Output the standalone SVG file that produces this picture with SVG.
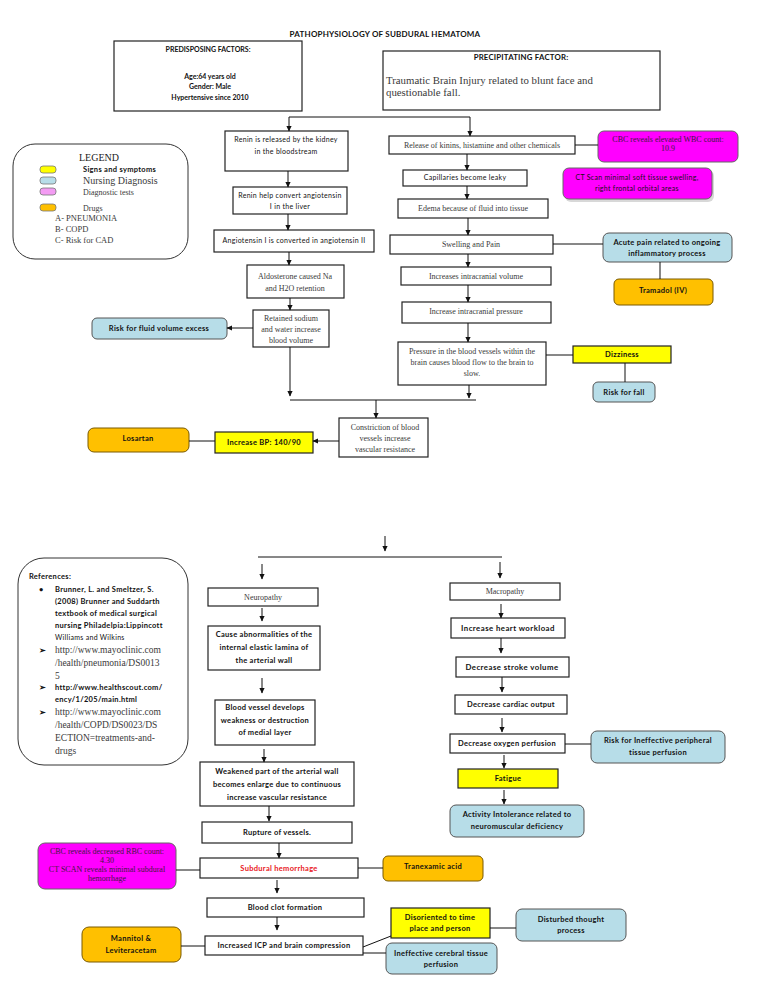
<svg xmlns="http://www.w3.org/2000/svg" width="768" height="1006" viewBox="0 0 768 1006">
<style>
.bg{fill:#fff}
.box{fill:#fff;stroke:#222;stroke-width:1.2}
.yel{fill:#ffff00;stroke:#222;stroke-width:1.2}
.blu{fill:#b7dde8;stroke:#555;stroke-width:1}
.mag{fill:#ff00ff;stroke:#666;stroke-width:1}
.ora{fill:#ffc000;stroke:#7a5a00;stroke-width:1}
.rnd{fill:#fff;stroke:#333;stroke-width:1}
.ln{stroke:#111;stroke-width:1;fill:none}
.sb{font-family:Lato,"Liberation Sans",sans-serif;font-weight:bold;font-size:7.5px;letter-spacing:0.3px;fill:#111}
.ss{font-family:Lato,"Liberation Sans",sans-serif;font-size:7px;letter-spacing:0.3px;fill:#111}
.sr{font-family:"Liberation Serif",serif;font-size:8px;fill:#3a3a3a}
.mt{fill:#3d1a3d}
.big{font-size:7.8px;letter-spacing:0.45px}
.c{text-anchor:middle}
</style>
<defs>
<marker id="ah" markerWidth="6" markerHeight="6" refX="5" refY="3" orient="auto" markerUnits="userSpaceOnUse"><path d="M0,0.4 L5.5,3 L0,5.6 z" fill="#111"/></marker>
</defs>
<rect class="bg" x="0" y="0" width="768" height="1006"/>

<text id="title" class="sb c" x="385" y="37" style="font-size:8px;letter-spacing:0.2px">PATHOPHYSIOLOGY OF SUBDURAL HEMATOMA</text>

<g id="predisposing">
<rect class="box" x="114" y="41" width="188" height="70"/>
<text class="sb c" x="208" y="52" style="font-size:7px;letter-spacing:0">PREDISPOSING FACTORS:</text>
<text class="sb c" x="210" y="79" style="font-size:7px;letter-spacing:0">Age:64 years old</text>
<text class="sb c" x="210" y="89" style="font-size:7px;letter-spacing:0">Gender: Male</text>
<text class="sb c" x="210" y="100" style="font-size:7px;letter-spacing:0">Hypertensive since 2010</text>
</g>

<g id="precipitating">
<rect class="box" x="383" y="51" width="277" height="59"/>
<text class="sb c" x="521" y="60" style="font-size:7.8px;letter-spacing:0.2px">PRECIPITATING FACTOR:</text>
<text class="sr" x="386" y="84" style="font-size:10.8px">Traumatic Brain Injury related to blunt face and</text>
<text class="sr" x="386" y="96" style="font-size:10.8px">questionable fall.</text>
</g>

<g id="legend">
<rect class="rnd" x="13" y="144" width="175" height="115" rx="22"/>
<text class="sr" x="79" y="161" style="font-size:10px;fill:#222">LEGEND</text>
<rect x="40" y="166" width="16" height="7" rx="3" fill="#ffff00" stroke="#777" stroke-width="0.8"/>
<rect x="40" y="177" width="16" height="7" rx="3" fill="#b7dde8" stroke="#777" stroke-width="0.8"/>
<rect x="40" y="188" width="16" height="7" rx="3" fill="#f39cf3" stroke="#777" stroke-width="0.8"/>
<rect x="40" y="204" width="16" height="7" rx="3" fill="#ffc000" stroke="#777" stroke-width="0.8"/>
<text class="sb" x="83" y="172">Signs and symptoms</text>
<text class="sr" x="83" y="184" style="font-size:10px">Nursing Diagnosis</text>
<text class="sr" x="83" y="195">Diagnostic tests</text>
<text class="sr" x="83" y="211">Drugs</text>
<text class="sr" x="55" y="221" style="font-size:8.5px">A-  PNEUMONIA</text>
<text class="sr" x="55" y="232" style="font-size:8.5px">B-  COPD</text>
<text class="sr" x="55" y="243" style="font-size:8.5px">C-  Risk for CAD</text>
</g>

<g id="renin">
<rect class="box" x="225" y="131" width="123" height="40"/>
<text class="ss c" x="286" y="142">Renin is released by the kidney</text>
<text class="ss c" x="286" y="154">in the bloodstream</text>
</g>
<g id="renin2">
<rect class="box" x="233" y="187" width="114" height="27"/>
<text class="ss c" x="290" y="198">Renin help convert angiotensin</text>
<text class="ss c" x="290" y="209">I in the liver</text>
</g>
<g id="angio">
<rect class="box" x="214" y="230" width="160" height="22"/>
<text class="ss c" x="294" y="243">Angiotensin I is converted in angiotensin II</text>
</g>
<g id="aldo">
<rect class="box" x="247" y="265" width="97" height="33"/>
<text class="sr c" x="295" y="279">Aldosterone caused Na</text>
<text class="sr c" x="295" y="291">and H2O retention</text>
</g>
<g id="retained">
<rect class="box" x="253" y="310" width="76" height="37"/>
<text class="sr c" x="291" y="321">Retained sodium</text>
<text class="sr c" x="291" y="332">and water increase</text>
<text class="sr c" x="291" y="343">blood volume</text>
</g>
<g id="riskfluid">
<rect class="blu" x="92" y="318" width="135" height="21" rx="5"/>
<text class="sb c" x="159" y="331">Risk for fluid volume excess</text>
</g>

<g id="release">
<rect class="box" x="389" y="136" width="186" height="18"/>
<text class="sr c" x="482" y="148">Release of kinins, histamine and other chemicals</text>
</g>
<g id="cbc1">
<rect class="mag" x="598" y="131" width="140" height="31" rx="6"/>
<text class="sr c mt" x="668" y="142">CBC reveals elevated WBC count:</text>
<text class="sr c mt" x="668" y="151">10.9</text>
</g>
<g id="capillaries">
<rect class="box" x="403" y="170" width="124" height="16"/>
<text class="ss c" x="465" y="180">Capillaries become leaky</text>
</g>
<g id="ctscan1">
<rect x="565" y="170" width="149" height="32" rx="6" fill="#d8d8d8"/>
<rect class="mag" x="563" y="168" width="149" height="31" rx="6"/>
<text class="ss c" x="637" y="180">CT Scan minimal soft tissue swelling,</text>
<text class="ss c" x="637" y="191">right frontal orbital areas</text>
</g>
<g id="edema">
<rect class="box" x="398" y="199" width="150" height="19"/>
<text class="sr c" x="473" y="211">Edema because of fluid into tissue</text>
</g>
<g id="swelling">
<rect class="box" x="390" y="235" width="163" height="19"/>
<text class="sr c" x="471" y="247">Swelling and Pain</text>
</g>
<g id="acutepain">
<rect class="blu" x="603" y="233" width="129" height="29" rx="6"/>
<text class="sb c" x="667" y="245">Acute pain related to ongoing</text>
<text class="sb c" x="667" y="256">inflammatory process</text>
</g>
<g id="tramadol">
<rect class="ora" x="614" y="279" width="99" height="26" rx="5"/>
<text class="sb c" x="663" y="293">Tramadol (IV)</text>
</g>
<g id="icvolume">
<rect class="box" x="401" y="267" width="150" height="18"/>
<text class="sr c" x="476" y="279">Increases intracranial volume</text>
</g>
<g id="icpressure">
<rect class="box" x="402" y="302" width="149" height="21"/>
<text class="sr c" x="476" y="314">Increase intracranial pressure</text>
</g>
<g id="pressure">
<rect class="box" x="398" y="342" width="148" height="43"/>
<text class="sr c" x="472" y="354">Pressure in the blood vessels within the</text>
<text class="sr c" x="472" y="365">brain causes blood flow to the brain to</text>
<text class="sr c" x="472" y="376">slow.</text>
</g>
<g id="dizziness">
<rect class="yel" x="573" y="346" width="98" height="17"/>
<text class="sb c" x="622" y="357">Dizziness</text>
</g>
<g id="riskfall">
<rect class="blu" x="593" y="382" width="62" height="20" rx="5"/>
<text class="sb c" x="624" y="395">Risk for fall</text>
</g>
<g id="constriction">
<rect class="box" x="339" y="418" width="89" height="39"/>
<text class="sr c" x="385" y="430">Constriction of blood</text>
<text class="sr c" x="385" y="441">vessels increase</text>
<text class="sr c" x="385" y="452">vascular resistance</text>
</g>
<g id="bp">
<rect class="yel" x="215" y="432" width="98" height="21"/>
<text class="sb c" x="264" y="445">Increase BP: 140/90</text>
</g>
<g id="losartan">
<rect class="ora" x="88" y="428" width="101" height="24" rx="6"/>
<text class="sb c" x="138" y="441">Losartan</text>
</g>

<g id="references">
<rect class="rnd" x="18" y="558" width="170" height="207" rx="26"/>
<text class="sb" x="29" y="579">References:</text>
<text class="sb" x="39" y="592">•</text>
<text class="sb" x="55" y="592">Brunner, L. and Smeltzer, S.</text>
<text class="sb" x="55" y="604">(2008) Brunner and Suddarth</text>
<text class="sb" x="55" y="616">textbook of medical surgical</text>
<text class="sb" x="55" y="628">nursing Philadelpia:Lippincott</text>
<text class="ss" x="55" y="640">Williams and Wilkins</text>
<text class="sb" x="39" y="653">➢</text>
<text class="sr" x="55" y="653" style="font-size:9.5px">http://www.mayoclinic.com</text>
<text class="sr" x="55" y="666" style="font-size:9.5px">/health/pneumonia/DS0013</text>
<text class="sr" x="55" y="679" style="font-size:9.5px">5</text>
<text class="sb" x="39" y="690">➢</text>
<text class="sb" x="55" y="690">http://www.healthscout.com/</text>
<text class="sb" x="55" y="702">ency/1/205/main.html</text>
<text class="sb" x="39" y="715">➢</text>
<text class="sr" x="55" y="715" style="font-size:9.5px">http://www.mayoclinic.com</text>
<text class="sr" x="55" y="728" style="font-size:9.5px">/health/COPD/DS0023/DS</text>
<text class="sr" x="55" y="741" style="font-size:9.5px">ECTION=treatments-and-</text>
<text class="sr" x="55" y="754" style="font-size:9.5px">drugs</text>
</g>

<g id="neuropathy">
<rect class="box" x="208" y="588" width="110" height="18"/>
<text class="sr c" x="263" y="600">Neuropathy</text>
</g>
<g id="cause">
<rect class="box" x="208" y="626" width="112" height="44"/>
<text class="sb c" x="264" y="637">Cause abnormalities of the</text>
<text class="sb c" x="264" y="650">internal elastic lamina of</text>
<text class="sb c" x="264" y="663">the arterial wall</text>
</g>
<g id="bloodvessel">
<rect class="box" x="215" y="700" width="100" height="45"/>
<text class="sb c" x="265" y="710">Blood vessel develops</text>
<text class="sb c" x="265" y="723">weakness or destruction</text>
<text class="sb c" x="265" y="735">of medial layer</text>
</g>
<g id="weakened">
<rect class="box" x="200" y="762" width="154" height="44"/>
<text class="sb c" x="277" y="774">Weakened part of the arterial wall</text>
<text class="sb c" x="277" y="787">becomes enlarge due to continuous</text>
<text class="sb c" x="277" y="800">increase vascular resistance</text>
</g>
<g id="rupture">
<rect class="box" x="202" y="822" width="150" height="21"/>
<text class="sb c" x="277" y="835">Rupture of vessels.</text>
</g>
<g id="subdural">
<rect class="box" x="200" y="858" width="158" height="20"/>
<text class="sb c" x="279" y="871" style="fill:#e8161b">Subdural hemorrhage</text>
</g>
<g id="cbc2">
<rect class="mag" x="38" y="843" width="138" height="46" rx="7"/>
<text class="sr c mt" x="107" y="854">CBC reveals decreased RBC count:</text>
<text class="sr c mt" x="107" y="863">4.30</text>
<text class="sr c mt" x="107" y="872">CT SCAN reveals minimal subdural</text>
<text class="sr c mt" x="107" y="881">hemorrhage</text>
</g>
<g id="tranexamic">
<rect class="ora" x="383" y="856" width="100" height="25" rx="5"/>
<text class="sb c" x="433" y="869">Tranexamic acid</text>
</g>
<g id="bloodclot">
<rect class="box" x="207" y="898" width="157" height="19"/>
<text class="sb c" x="285" y="910">Blood clot formation</text>
</g>
<g id="icp">
<rect class="box" x="205" y="936" width="158" height="19"/>
<text class="sb c" x="284" y="948">Increased ICP and brain compression</text>
</g>
<g id="mannitol">
<rect class="ora" x="82" y="927" width="99" height="35" rx="7"/>
<text class="sb c" x="131" y="941">Mannitol &amp;</text>
<text class="sb c" x="131" y="953">Leviteracetam</text>
</g>
<g id="disoriented">
<rect class="yel" x="391" y="908" width="99" height="30"/>
<text class="sb c" x="440" y="920">Disoriented to time</text>
<text class="sb c" x="440" y="931">place and person</text>
</g>
<g id="disturbed">
<rect class="blu" x="516" y="909" width="110" height="32" rx="6"/>
<text class="sb c" x="571" y="922">Disturbed thought</text>
<text class="sb c" x="571" y="933">process</text>
</g>
<g id="ineffective">
<rect class="blu" x="386" y="943" width="111" height="31" rx="6"/>
<text class="sb c" x="441" y="956">Ineffective cerebral tissue</text>
<text class="sb c" x="441" y="967">perfusion</text>
</g>

<g id="macropathy">
<rect class="box" x="450" y="583" width="110" height="17"/>
<text class="sr c" x="505" y="594">Macropathy</text>
</g>
<g id="workload">
<rect class="box" x="451" y="618" width="114" height="20"/>
<text class="sb c big" x="508" y="631">Increase heart workload</text>
</g>
<g id="stroke">
<rect class="box" x="456" y="657" width="113" height="20"/>
<text class="sb c big" x="512" y="670">Decrease stroke volume</text>
</g>
<g id="cardiac">
<rect class="box" x="455" y="695" width="112" height="19"/>
<text class="sb c" x="511" y="707">Decrease cardiac output</text>
</g>
<g id="oxygen">
<rect class="box" x="450" y="734" width="115" height="19"/>
<text class="sb c" x="507" y="746">Decrease oxygen perfusion</text>
</g>
<g id="riskperipheral">
<rect class="blu" x="591" y="731" width="134" height="32" rx="6"/>
<text class="sb c" x="658" y="743">Risk for Ineffective peripheral</text>
<text class="sb c" x="658" y="755">tissue perfusion</text>
</g>
<g id="fatigue">
<rect class="yel" x="458" y="769" width="100" height="19"/>
<text class="sb c" x="508" y="781">Fatigue</text>
</g>
<g id="activity">
<rect class="blu" x="450" y="805" width="134" height="32" rx="6"/>
<text class="sb c" x="517" y="817">Activity Intolerance related to</text>
<text class="sb c" x="517" y="829">neuromuscular deficiency</text>
</g>

<g id="connectors">
<path class="ln" d="M289,117 H470"/>
<path class="ln" marker-end="url(#ah)" d="M289,117 V131"/>
<path class="ln" marker-end="url(#ah)" d="M470,117 V136"/>
<path class="ln" marker-end="url(#ah)" d="M288,171 V187"/>
<path class="ln" marker-end="url(#ah)" d="M288,214 V230"/>
<path class="ln" marker-end="url(#ah)" d="M289,252 V265"/>
<path class="ln" marker-end="url(#ah)" d="M290,298 V310"/>
<path class="ln" marker-end="url(#ah)" d="M253,328 H227"/>
<path class="ln" marker-end="url(#ah)" d="M290,347 V396"/>
<path class="ln" d="M290,400 H476"/>
<path class="ln" marker-end="url(#ah)" d="M376,400 V418"/>
<path class="ln" d="M575,145 H598"/>
<path class="ln" marker-end="url(#ah)" d="M467,154 V170"/>
<path class="ln" marker-end="url(#ah)" d="M467,186 V199"/>
<path class="ln" marker-end="url(#ah)" d="M468,218 V235"/>
<path class="ln" d="M553,244 H603"/>
<path class="ln" d="M660,262 V279"/>
<path class="ln" marker-end="url(#ah)" d="M468,254 V267"/>
<path class="ln" marker-end="url(#ah)" d="M468,285 V302"/>
<path class="ln" marker-end="url(#ah)" d="M468,323 V342"/>
<path class="ln" d="M546,355 H573"/>
<path class="ln" d="M625,363 V382"/>
<path class="ln" marker-end="url(#ah)" d="M469,385 V398"/>
<path class="ln" marker-end="url(#ah)" d="M339,441 H313"/>
<path class="ln" d="M189,441 H215"/>

<path class="ln" marker-end="url(#ah)" d="M385,536 V551"/>
<path class="ln" d="M258,557 H502"/>
<path class="ln" marker-end="url(#ah)" d="M262,564 V579"/>
<path class="ln" marker-end="url(#ah)" d="M500,562 V578"/>
<path class="ln" marker-end="url(#ah)" d="M262,608 V621"/>
<path class="ln" marker-end="url(#ah)" d="M262,678 V693"/>
<path class="ln" marker-end="url(#ah)" d="M264,749 V762"/>
<path class="ln" marker-end="url(#ah)" d="M269,806 V821"/>
<path class="ln" marker-end="url(#ah)" d="M279,843 V858"/>
<path class="ln" d="M200,870 H176"/>
<path class="ln" d="M358,868 H383"/>
<path class="ln" marker-end="url(#ah)" d="M277,880 V893"/>
<path class="ln" marker-end="url(#ah)" d="M277,917 V930"/>
<path class="ln" d="M205,946 H181"/>
<path class="ln" d="M363,947 L391,936"/>
<path class="ln" d="M363,953 H386"/>
<path class="ln" d="M490,928 H516"/>

<path class="ln" marker-end="url(#ah)" d="M501,604 V618"/>
<path class="ln" marker-end="url(#ah)" d="M501,638 V653"/>
<path class="ln" marker-end="url(#ah)" d="M502,677 V692"/>
<path class="ln" marker-end="url(#ah)" d="M502,718 V732"/>
<path class="ln" d="M565,744 H591"/>
<path class="ln" marker-end="url(#ah)" d="M504,755 V768"/>
<path class="ln" marker-end="url(#ah)" d="M504,790 V804"/>
</g>
</svg>
